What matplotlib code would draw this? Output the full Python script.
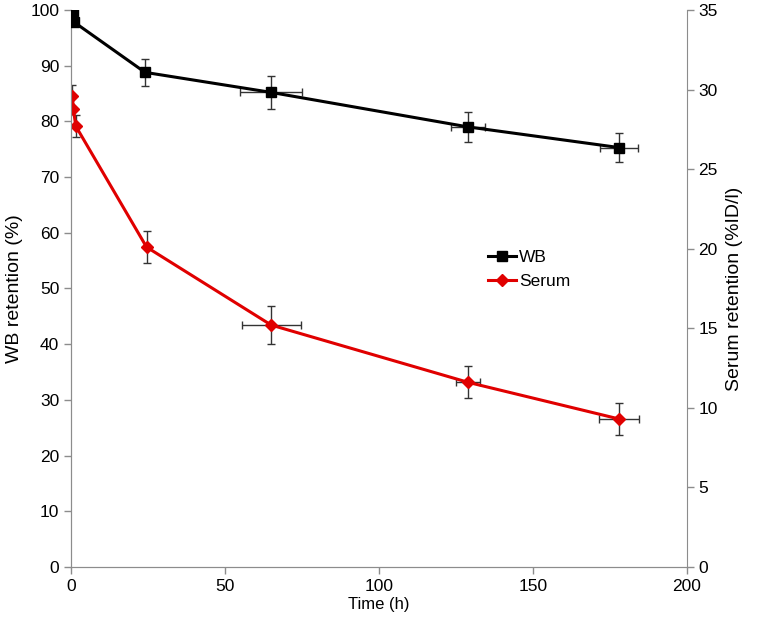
import matplotlib.pyplot as plt
import numpy as np

plt.rcParams['font.family'] = ['Liberation Sans', 'DejaVu Sans']

# WB retention (%), left axis
wb_t    = [0.75, 1, 24, 65, 129, 178]
wb_y    = [99.8, 97.8, 88.8, 85.2, 79.0, 75.3]
wb_yerr = [0, 0, 2.4, 2.9, 2.7, 2.6]
wb_xerr = [0, 0, 0, 10, 5.5, 6.3]

# Serum retention (%ID/l), right axis
se_t    = [0.4, 0.7, 1.5, 24.5, 65, 129, 178]
se_y    = [29.6, 28.8, 27.7, 20.1, 15.2, 11.6, 9.3]
se_yerr = [0.7, 0, 0.7, 1.0, 1.2, 1.0, 1.0]
se_xerr = [0, 0, 0, 0, 9.6, 4.0, 6.6]

grey = '#8c8c8c'
ebc = '#333333'

fig = plt.figure(figsize=(7.57, 6.23), dpi=100)
ax = fig.add_axes([0.094, 0.09, 0.813, 0.894])
ax2 = ax.twinx()

# serum on ax2, wb on ax (on top)
ax2.errorbar(se_t, se_y, yerr=se_yerr, xerr=se_xerr, fmt='none', ecolor=ebc,
             elinewidth=1, capsize=3, capthick=1, zorder=2)
l2, = ax2.plot(se_t, se_y, color='#e00000', lw=2.2, marker='D', ms=6.5,
               zorder=3, label='Serum')
ax.errorbar(wb_t, wb_y, yerr=wb_yerr, xerr=wb_xerr, fmt='none', ecolor=ebc,
            elinewidth=1, capsize=3, capthick=1, zorder=2)
l1, = ax.plot(wb_t, wb_y, color='black', lw=2.2, marker='s', ms=7,
              zorder=3, label='WB')
ax.set_zorder(ax2.get_zorder() + 1)
ax.patch.set_visible(False)

ax.set_xlim(0, 200)
ax.set_ylim(0, 100)
ax2.set_ylim(0, 35)
ax.set_xticks(np.arange(0, 201, 50))
ax.set_yticks(np.arange(0, 101, 10))
ax2.set_yticks(np.arange(0, 36, 5))

for a in (ax, ax2):
    for s in a.spines.values():
        s.set_color(grey)
    a.spines['top'].set_visible(False)
    a.tick_params(colors=grey, labelcolor='black', labelsize=12.5, length=5,
                  width=1, direction='out')
ax.spines['right'].set_visible(False)

ax.set_xlabel('Time (h)', fontsize=12, labelpad=2)
ax.set_ylabel('WB retention (%)', fontsize=14, labelpad=5)
ax2.set_ylabel('Serum retention (%ID/l)', fontsize=14, labelpad=6)

ax.legend([l1, l2], ['WB', 'Serum'], loc='upper left',
          bbox_to_anchor=(0.652, 0.597), frameon=False, fontsize=12.5,
          handlelength=1.6, handletextpad=0.2, labelspacing=0.5)

fig.savefig('out.png', dpi=100)
